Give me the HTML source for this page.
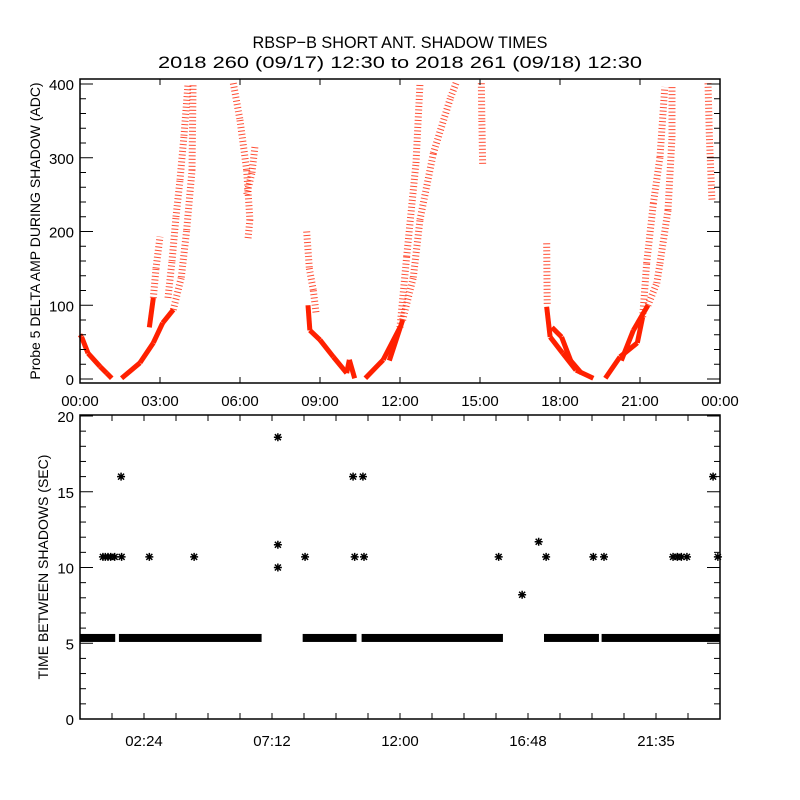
<!DOCTYPE html>
<html><head><meta charset="utf-8"><style>
html,body{margin:0;padding:0;background:#fff;}
svg{display:block;font-family:"Liberation Sans",sans-serif;}
</style></head><body>
<svg id="chart" width="800" height="800" viewBox="0 0 800 800">
<rect width="800" height="800" fill="#fff"/>
<text x="400" y="48" text-anchor="middle" font-size="17" textLength="295" lengthAdjust="spacingAndGlyphs">RBSP−B SHORT ANT. SHADOW TIMES</text>
<text x="400" y="68" text-anchor="middle" font-size="17" textLength="484" lengthAdjust="spacingAndGlyphs">2018 260 (09/17) 12:30 to 2018 261 (09/18) 12:30</text>
<g id="topPanel"></g>
<g id="botPanel"></g>
</svg>
<script>
// ---- top panel data: branches of [hour, ADC] ----
const branchA=[[0,60],[0.06,57],[0.3,35],[0.75,17],[1.0,8],[1.19,1]];
const branchB=[[1.56,1],[2.25,22],[2.75,49],[3.1,76],[3.5,94],[3.8,138],[4.0,202],[4.2,283],[4.24,401]];
const branchB2=[[2.6,70],[2.75,110],[2.85,150],[3.0,193]];
const branchB3=[[3.3,110],[3.45,160],[3.6,220],[3.75,270],[3.9,330],[4.05,400]];
const branchC=[[5.75,401],[6.0,351],[6.25,283],[6.37,216],[6.3,190]];
const branchC2=[[6.25,250],[6.45,280],[6.56,315]];
const branchD=[[8.55,100],[8.62,66],[9.0,53],[9.5,30],[10.0,8],[10.1,26],[10.3,1]];
const branchD2=[[8.5,200],[8.6,150],[8.75,120],[8.85,90]];
const branchE=[[10.7,1],[11.37,26],[12.0,70],[12.25,166],[12.6,293],[12.75,401]];
const branchE2=[[11.6,25],[12.1,80],[12.5,138],[12.75,216],[13.25,306],[13.9,382],[14.1,401]];
const branchF=[[15.05,401],[15.07,350],[15.1,290]];
const branchG=[[17.5,98],[17.63,57],[18.1,35],[18.6,12],[19.25,1]];
const branchG2=[[17.5,184],[17.52,100]];
const branchG3=[[17.7,70],[18.06,57],[18.4,25],[18.8,8]];
const branchH=[[19.7,1],[20.25,30],[20.9,49],[21.1,84],[21.25,157],[21.5,238],[21.75,301],[21.93,396]];
const branchH2=[[20.3,25],[20.75,66],[21.3,100],[21.63,130],[21.75,157],[22.05,229],[22.2,328],[22.2,396]];
const branchI=[[23.55,401],[23.6,330],[23.7,240]];
const topBranches=[branchA,branchB,branchB2,branchB3,branchC,branchC2,branchD,branchD2,branchE,branchE2,branchF,branchG,branchG2,branchG3,branchH,branchH2,branchI];
const topYTicks=[0,100,200,300,400];
const topXLabels=["00:00","03:00","06:00","09:00","12:00","15:00","18:00","21:00","00:00"];
// ---- bottom panel data ----
const bandStart=[0,1.46,8.35,10.56,17.4,19.56];
const bandEnd=[1.32,6.81,10.37,15.86,19.46,24];
const bandValue=[5.35,5.35,5.35,5.35,5.35,5.35];
const starHours=[0.86,0.95,1.05,1.15,1.3,1.56,2.6,4.28,8.44,10.3,10.65,15.7,17.48,19.25,19.65,22.24,22.4,22.55,22.76,23.92,1.54,10.24,10.61,23.74,7.42,7.42,7.42,16.58,17.2];
const starValues=[10.7,10.7,10.7,10.7,10.7,10.7,10.7,10.7,10.7,10.7,10.7,10.7,10.7,10.7,10.7,10.7,10.7,10.7,10.7,10.7,16,16,16,16,18.6,11.5,10,8.2,11.7];
const botYTicks=[0,5,10,15,20];
const botXLabels=["02:24","07:12","12:00","16:48","21:35"];

const NS="http://www.w3.org/2000/svg";
function mk(tag,attrs,parent){const e=document.createElementNS(NS,tag);for(const k in attrs)e.setAttribute(k,attrs[k]);parent.appendChild(e);return e;}
const L=80,R=720;
const xs=h=>L+(R-L)*h/24;
const tyS=v=>379-v*0.7375;
const byS=v=>719-v*(303/20);

// ---- top panel ----
const topPanel=document.getElementById('topPanel');
topBranches.forEach((br)=>{
  for(let i=0;i<br.length-1;i++){
    const a=br[i],b=br[i+1];
    const avg=(a[1]+b[1])/2;
    const dense=avg<100;
    const seg=mk('line',{x1:xs(a[0]),y1:tyS(a[1]),x2:xs(b[0]),y2:tyS(b[1]),stroke:'#ff2000','stroke-width':dense?5:7,'stroke-dasharray':dense?'none':'1 2.5','stroke-opacity':dense?1:0.8},topPanel);
    
    
  }
});
const tf=mk('rect',{x:L,y:79,width:R-L,height:304,fill:'none',stroke:'#000','stroke-width':1.5},topPanel);


for(let v=0;v<=400;v+=20){
  const maj=v%100===0,len=maj?13:6;
  mk('line',{x1:L,y1:tyS(v),x2:L+len,y2:tyS(v),stroke:'#000'},topPanel);
  mk('line',{x1:R,y1:tyS(v),x2:R-len,y2:tyS(v),stroke:'#000'},topPanel);
}
topYTicks.forEach(v=>{
  const t=mk('text',{x:L-6,y:tyS(v)+6,'text-anchor':'end','font-size':15},topPanel);t.textContent=v;
  
  
});
topXLabels.forEach((s,i)=>{
  const x=xs(i*3);
  mk('line',{x1:x,y1:383,x2:x,y2:377,stroke:'#000'},topPanel);
  mk('line',{x1:x,y1:79,x2:x,y2:85,stroke:'#000'},topPanel);
  const t=mk('text',{x:x,y:406,'text-anchor':'middle','font-size':15},topPanel);t.textContent=s;
  
  
});
const tyt=mk('text',{x:0,y:0,transform:'translate(40,231) rotate(-90)','text-anchor':'middle','font-size':14},topPanel);
tyt.textContent='Probe 5 DELTA AMP DURING SHADOW (ADC)';



// ---- bottom panel ----
const botPanel=document.getElementById('botPanel');
function star(cx,cy,parent){
  const g=mk('path',{d:`M${cx-4},${cy}H${cx+4}M${cx},${cy-4}V${cy+4}M${cx-3},${cy-3}L${cx+3},${cy+3}M${cx-3},${cy+3}L${cx+3},${cy-3}`,stroke:'#000','stroke-width':1.5,fill:'none'},parent);
  return g;
}
for(let i=0;i<bandStart.length;i++){
  const x1=xs(bandStart[i]),x2=xs(bandEnd[i]);
  const r=mk('rect',{x:x1,y:byS(bandValue[i])-4,width:Math.max(1,x2-x1),height:8,fill:'#000'},botPanel);
  
  
}
for(let i=0;i<starHours.length;i++){
  const s=star(xs(starHours[i]),byS(starValues[i]),botPanel);
  
  
}
const bf=mk('rect',{x:L,y:415,width:R-L,height:304,fill:'none',stroke:'#000','stroke-width':1.5},botPanel);


for(let v=0;v<=20;v+=1){
  const maj=v%5===0,len=maj?13:6;
  mk('line',{x1:L,y1:byS(v),x2:L+len,y2:byS(v),stroke:'#000'},botPanel);
  mk('line',{x1:R,y1:byS(v),x2:R-len,y2:byS(v),stroke:'#000'},botPanel);
}
botYTicks.forEach(v=>{
  const t=mk('text',{x:L-6,y:byS(v)+6,'text-anchor':'end','font-size':15},botPanel);t.textContent=v;
  
  
});
for(let k=0;k<=20;k++){
  const x=xs(k*1.2);
  mk('line',{x1:x,y1:719,x2:x,y2:713,stroke:'#000'},botPanel);
  mk('line',{x1:x,y1:415,x2:x,y2:421,stroke:'#000'},botPanel);
}
botXLabels.forEach((s,i)=>{
  const t=mk('text',{x:xs(2.4+i*4.8),y:746,'text-anchor':'middle','font-size':15},botPanel);t.textContent=s;
  
  
});
const byt=mk('text',{x:0,y:0,transform:'translate(48,567) rotate(-90)','text-anchor':'middle','font-size':14},botPanel);
byt.textContent='TIME BETWEEN SHADOWS (SEC)';


</script>
</body></html>
